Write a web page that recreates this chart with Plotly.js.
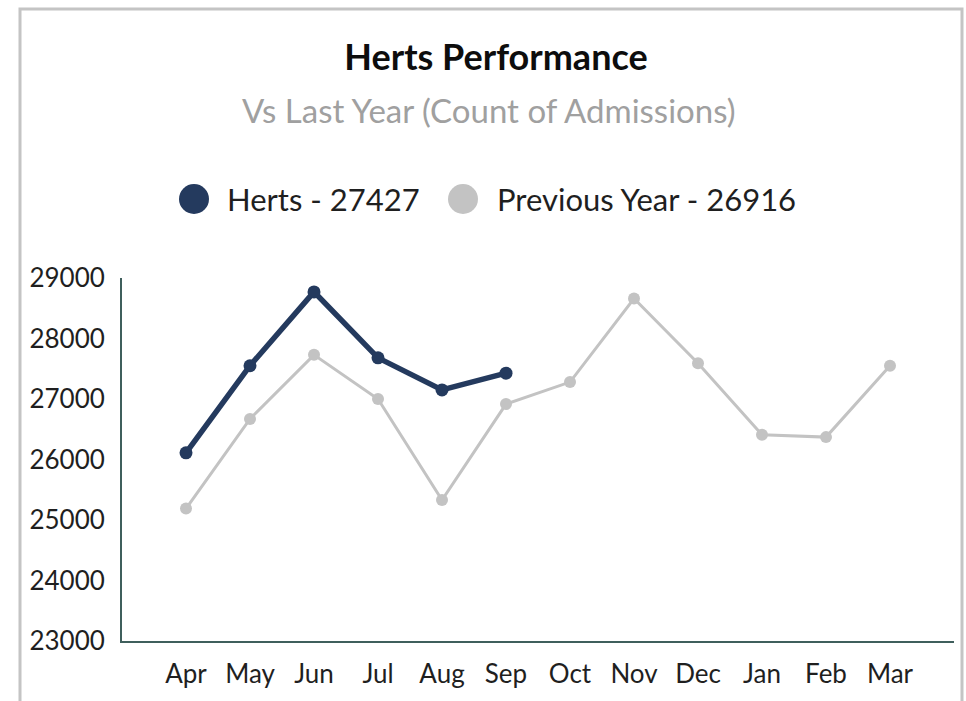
<!DOCTYPE html>
<html>
<head>
<meta charset="utf-8">
<script src="https://cdn.plot.ly/plotly-3.0.1.min.js"></script>
<style>
  html, body { margin: 0; padding: 0; background: #ffffff; }
  #chart { width: 966px; height: 701px; }
</style>
</head>
<body>
<div id="chart"></div>
<script>
// ---- data ----
const months = ["Apr", "May", "Jun", "Jul", "Aug", "Sep", "Oct", "Nov", "Dec", "Jan", "Feb", "Mar"];
const hertsValues = [26110, 27550, 28770, 27680, 27150, 27427];
const previousYearValues = [25190, 26670, 27730, 27000, 25330, 26916, 27280, 28660, 27590, 26410, 26370, 27550];
const seriesNames = ["Herts", "Previous Year"];
const seriesTotals = [27427, 26916];
const yTickValues = [23000, 24000, 25000, 26000, 27000, 28000, 29000];

const navy = "#243a5e";
const grey = "#c3c3c3";
const FONT = "Lato, 'Open Sans', sans-serif";

const traces = [
  {
    x: months, y: previousYearValues, type: "scatter", mode: "lines+markers",
    name: seriesNames[1], showlegend: false, hoverinfo: "x+y",
    line: { color: grey, width: 3 },
    marker: { color: grey, size: 12 }
  },
  {
    x: months.slice(0, hertsValues.length), y: hertsValues, type: "scatter", mode: "lines+markers",
    name: seriesNames[0], showlegend: false, hoverinfo: "x+y",
    line: { color: navy, width: 5.5 },
    marker: { color: navy, size: 13 }
  }
];

const W = 966, H = 701, ML = 122, MR = 12, MT = 278, MB = 60;
const PW = W - ML - MR, PH = H - MT - MB;
const px = v => (v - ML) / PW;
const py = v => (H - MB - v) / PH;

// legend drawn as shapes + annotations (large round swatches)
const LEG_Y = 199, R = 15;
const legendItems = [
  { color: navy, text: seriesNames[0] + " - " + seriesTotals[0], cx: 194, tx: 225 },
  { color: grey, text: seriesNames[1] + " - " + seriesTotals[1], cx: 463, tx: 495 }
];

const shapes = [
  {
    type: "rect", xref: "paper", yref: "paper",
    x0: px(20), x1: px(962), y0: py(720), y1: py(9),
    line: { color: "#c4c4c4", width: 3 }, fillcolor: "rgba(0,0,0,0)", layer: "below"
  }
];
const annotations = [
  {
    xref: "paper", yref: "paper", x: px(489), y: py(110), xanchor: "center", yanchor: "middle",
    text: "Vs Last Year (Count of Admissions)", showarrow: false,
    font: { family: FONT, size: 33, color: "#a0a0a0" }
  }
];
legendItems.forEach(it => {
  shapes.push({
    type: "circle", xref: "paper", yref: "paper",
    x0: px(it.cx - R), x1: px(it.cx + R), y0: py(LEG_Y + R), y1: py(LEG_Y - R),
    fillcolor: it.color, line: { color: it.color, width: 0 }
  });
  annotations.push({
    xref: "paper", yref: "paper", x: px(it.tx), y: py(LEG_Y),
    xanchor: "left", yanchor: "middle", showarrow: false,
    text: it.text, font: { family: FONT, size: 31, color: "#1f1f1f" }
  });
});

const layout = {
  width: W, height: H,
  margin: { l: ML, r: MR, t: MT, b: MB, pad: 0 },
  paper_bgcolor: "#ffffff", plot_bgcolor: "#ffffff",
  font: { family: FONT, color: "#1f1f1f" },
  title: {
    text: "<b>Herts Performance</b>",
    x: 496 / W, xanchor: "center",
    y: 1 - 57 / H, yanchor: "middle",
    font: { family: FONT, size: 36, color: "#0d0d0d" }
  },
  showlegend: false,
  xaxis: {
    type: "category", categoryorder: "array", categoryarray: months,
    range: [-1, 12], showgrid: false, zeroline: false,
    showline: true, linecolor: "#3f5f5c", linewidth: 2,
    ticks: "", tickfont: { family: FONT, size: 26, color: "#1f1f1f" },
    ticklabelstandoff: 9, fixedrange: true
  },
  yaxis: {
    range: [23000, 29000], tickvals: yTickValues, ticktext: yTickValues.map(String),
    showgrid: false, zeroline: false,
    showline: true, linecolor: "#3f5f5c", linewidth: 2,
    ticks: "", tickfont: { family: FONT, size: 26, color: "#1f1f1f" },
    ticklabelstandoff: 10, fixedrange: true
  },
  shapes: shapes,
  annotations: annotations
};

Plotly.newPlot("chart", traces, layout, { displayModeBar: false, staticPlot: true });
</script>
</body>
</html>
